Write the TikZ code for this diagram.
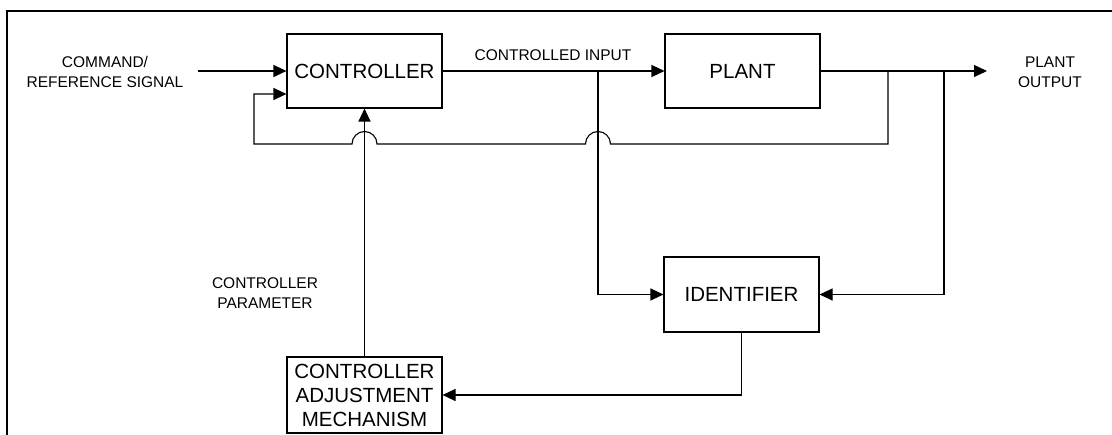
\documentclass[tikz,border=0pt]{standalone}
\usepackage{fontspec}
\setmainfont{Liberation Sans}
\usetikzlibrary{arrows.meta,calc}

\begin{document}
\begin{tikzpicture}[x=1pt,y=-1pt,
  line width=1.1pt,
  block/.style={draw,rectangle,inner sep=0pt,minimum width=155pt,
    font=\fontsize{20.5}{24}\selectfont,align=center},
  lbl/.style={font=\fontsize{15.5}{20}\selectfont,align=center,inner sep=0pt},
  arr/.style={-{Triangle[length=13pt,width=12pt]}}]

\useasboundingbox (0,0) rectangle (1112,435);

% frame
\draw[line width=1.5pt] (7,435) -- (7,11) -- (1112,11);

% blocks
\node[block,minimum height=74pt] (ctrl)  at (364.5,71)  {CONTROLLER};
\node[block,minimum height=74pt] (plant) at (742.5,71)  {PLANT};
\node[block,minimum height=75pt] (ident) at (741.5,294.5) {IDENTIFIER};
\node[block,minimum height=76pt] (cam)   at (364.5,395) {CONTROLLER\\ADJUSTMENT\\MECHANISM};

% labels
\node[lbl] (cmdlbl) at (105,72)  {COMMAND/\\REFERENCE SIGNAL};
\node[lbl] (cinlbl) at (553,55)  {CONTROLLED INPUT};
\node[lbl] (outlbl) at (1050,72) {PLANT\\OUTPUT};
\node[lbl] (parlbl) at (265,293) {CONTROLLER\\PARAMETER};

% free ends and branch points
\coordinate (cin)  at (198,71);
\coordinate (pout) at (987,71);
\coordinate (bu)   at (598,71);
\coordinate (bfb)  at (888,71);
\coordinate (bid)  at (944,71);
\coordinate (fbin) at (254,94);

% forward path
\draw[arr] (cin) -- (ctrl.west |- cin);
\draw[arr] (ctrl.east) -- (plant.west);
\draw[arr] (plant.east) -- (pout);

% feedback loop with line jumps
\draw[arr] (bfb) -- (888,144) -- (610.5,144)
  arc[start angle=0,end angle=-180,radius=12.5] -- (377,144)
  arc[start angle=0,end angle=-180,radius=12.5] -- (254,144)
  -- (fbin) -- (ctrl.west |- fbin);

% identifier inputs
\draw[arr] (bu) |- (ident.west);
\draw[arr] (bid) |- (ident.east);

% adaptation path
\draw[arr] (ident.south) |- (cam.east);
\draw[arr] (cam.north) -- (ctrl.south);

\end{tikzpicture}
\end{document}
